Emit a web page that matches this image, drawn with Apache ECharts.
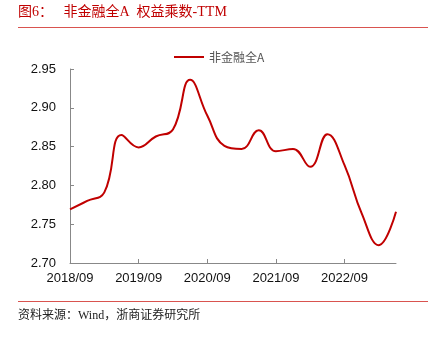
<!DOCTYPE html>
<html>
<head>
<meta charset="utf-8">
<script src="https://cdn.jsdelivr.net/npm/echarts@6/dist/echarts.min.js"></script>
<style>
  html, body { margin: 0; padding: 0; background: #fff; }
  #chart { width: 435px; height: 337px; }
</style>
</head>
<body>
<div id="chart"></div>
<script>
// Quarterly periods, 2018/09 to 2023/06
const quarters = [
  '2018/09', '2018/12', '2019/03', '2019/06',
  '2019/09', '2019/12', '2020/03', '2020/06',
  '2020/09', '2020/12', '2021/03', '2021/06',
  '2021/09', '2021/12', '2022/03', '2022/06',
  '2022/09', '2022/12', '2023/03', '2023/06'
];
// Equity multiplier (TTM), non-financial all-A
const equityMultiplier = [
  2.769, 2.780, 2.791, 2.865,
  2.849, 2.863, 2.872, 2.936,
  2.890, 2.851, 2.847, 2.871,
  2.844, 2.847, 2.824, 2.866,
  2.826, 2.764, 2.723, 2.766
];
const seriesName = '非金融全A';
const yTicks = { min: 2.70, max: 2.95, step: 0.05 };

const red = '#c00000';
const serifCJK = 'Liberation Serif, Noto Sans CJK SC, serif';
const chart = echarts.init(document.getElementById('chart'));
chart.setOption({
  animation: false,
  backgroundColor: '#fff',
  textStyle: { fontFamily: 'Liberation Sans, Arial, sans-serif' },
  graphic: [
    { type: 'text', left: 18, top: 5,
      style: { text: '图6：   非金融全A  权益乘数-TTM', fill: red, fontSize: 14,
               fontFamily: serifCJK } },
    { type: 'line', shape: { x1: 18, y1: 27.5, x2: 428, y2: 27.5 },
      style: { stroke: '#d9534f', lineWidth: 1 } },
    { type: 'line', shape: { x1: 18, y1: 301.5, x2: 428, y2: 301.5 },
      style: { stroke: '#d9534f', lineWidth: 1 } },
    { type: 'text', left: 18, top: 310,
      style: { text: '资料来源：Wind，浙商证券研究所', fill: '#222', fontSize: 12,
               fontFamily: serifCJK } }
  ],
  legend: {
    top: 46, left: 169,
    itemWidth: 30, itemHeight: 2,
    itemGap: 6,
    icon: 'rect',
    textStyle: { color: '#555', fontSize: 12, fontFamily: 'Noto Sans CJK SC, sans-serif' },
    data: [seriesName]
  },
  grid: { left: 70, right: 39, top: 69, bottom: 74 },
  xAxis: {
    type: 'category',
    data: quarters,
    boundaryGap: false,
    axisLine: { lineStyle: { color: '#888' } },
    axisTick: { inside: true, length: 4, interval: 3, lineStyle: { color: '#888' } },
    axisLabel: { interval: 3, color: '#111', fontSize: 13, margin: 9 }
  },
  yAxis: {
    type: 'value',
    min: yTicks.min, max: yTicks.max, interval: yTicks.step,
    axisLine: { show: true, lineStyle: { color: '#888' } },
    axisTick: { show: true, inside: true, length: 4, lineStyle: { color: '#888' } },
    splitLine: { show: false },
    axisLabel: { color: '#111', fontSize: 13, margin: 14,
                 formatter: v => v.toFixed(2) }
  },
  series: [{
    name: seriesName,
    type: 'line',
    data: equityMultiplier,
    smooth: 0.45,
    showSymbol: false,
    lineStyle: { color: red, width: 2 },
    itemStyle: { color: red }
  }]
});
</script>
</body>
</html>
